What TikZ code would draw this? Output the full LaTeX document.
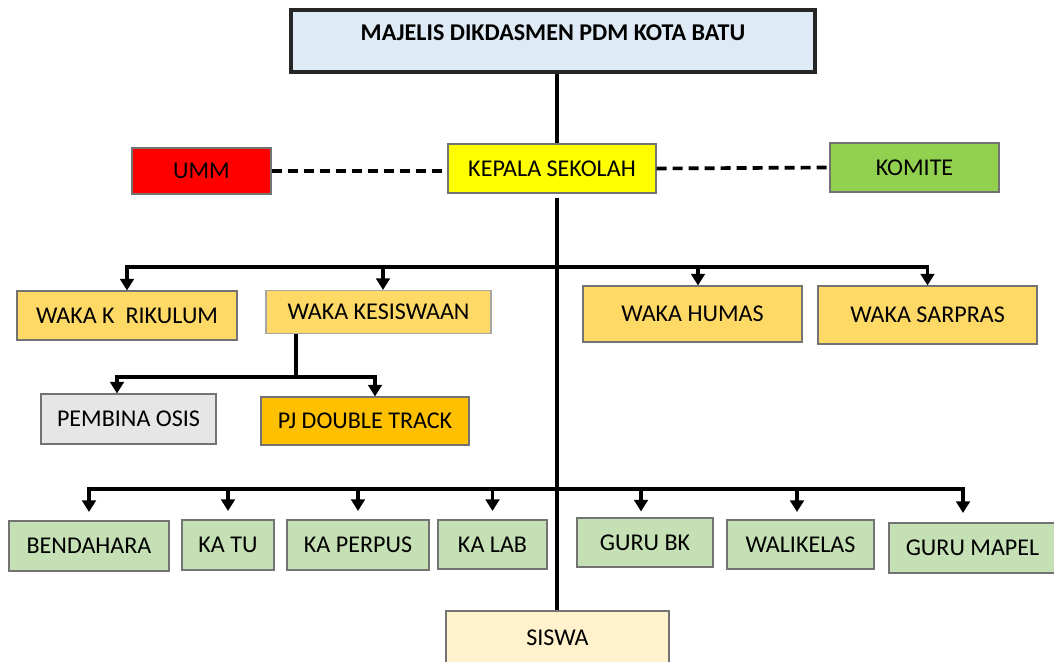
\documentclass[tikz,border=0pt]{standalone}
\usepackage{fontspec}
\setmainfont{Carlito}
\usetikzlibrary{arrows.meta}
\definecolor{majelisblue}{HTML}{DEEBF7}
\definecolor{ummred}{HTML}{FF0000}
\definecolor{kepalayellow}{HTML}{FFFF00}
\definecolor{komitegreen}{HTML}{92D050}
\definecolor{wakagold}{HTML}{FFD966}
\definecolor{osisgray}{HTML}{E7E6E6}
\definecolor{trackorange}{HTML}{FFC000}
\definecolor{stafgreen}{HTML}{C5E0B4}
\definecolor{siswacream}{HTML}{FFF2CC}

\begin{document}
\begin{tikzpicture}[>={Triangle[width=0.27cm,length=0.23cm]}, line width=2.1pt]
  \tikzstyle{box}=[rectangle, draw=black!55, line width=0.6pt, text=black,
font=\fontsize{13.7}{15}\selectfont, inner sep=0pt]
  \useasboundingbox (0,0) rectangle (21.08,13.22);

  \node[box, fill=majelisblue, draw=black!85, line width=2pt, font=\bfseries\fontsize{13.7}{15}\selectfont,
    minimum width=10.48cm, minimum height=1.24cm, text height=0.3cm, text depth=0.3cm] (K_majelis) at (11.06,12.40) {MAJELIS DIKDASMEN PDM KOTA BATU};
  \node[box, fill=ummred, minimum width=2.78cm, minimum height=0.92cm] (K_umm) at (4.03,9.80) {UMM};
  \node[box, fill=kepalayellow, minimum width=4.16cm, minimum height=0.98cm] (K_kepala) at (11.04,9.85) {KEPALA SEKOLAH};
  \node[box, fill=komitegreen, minimum width=3.38cm, minimum height=0.98cm] (K_komite) at (18.29,9.87) {KOMITE};

  \node[box, fill=wakagold, minimum width=4.40cm, minimum height=0.98cm] (W_kurikulum) at (2.54,6.91) {WAKA K\ \ RIKULUM};
  \node[box, fill=wakagold, draw=black!35, minimum width=4.50cm, minimum height=0.86cm] (W_kesiswaan) at (7.57,6.98) {WAKA KESISWAAN};
  \node[box, fill=wakagold, minimum width=4.38cm, minimum height=1.12cm] (W_humas) at (13.85,6.94) {WAKA HUMAS};
  \node[box, fill=wakagold, minimum width=4.38cm, minimum height=1.16cm] (W_sarpras) at (18.55,6.92) {WAKA SARPRAS};

  \node[box, fill=osisgray, minimum width=3.50cm, minimum height=1.00cm] (S_pembina) at (2.57,4.84) {PEMBINA OSIS};
  \node[box, fill=trackorange, minimum width=4.16cm, minimum height=0.96cm] (S_track) at (7.30,4.80) {PJ DOUBLE TRACK};

  \node[box, fill=stafgreen, minimum width=3.20cm, minimum height=1.00cm] (T_bendahara) at (1.78,2.30) {BENDAHARA};
  \node[box, fill=stafgreen, minimum width=1.84cm, minimum height=1.00cm] (T_katu) at (4.56,2.32) {KA TU};
  \node[box, fill=stafgreen, minimum width=2.84cm, minimum height=1.00cm] (T_perpus) at (7.16,2.32) {KA PERPUS};
  \node[box, fill=stafgreen, minimum width=2.18cm, minimum height=0.98cm] (T_lab) at (9.85,2.33) {KA LAB};
  \node[box, fill=stafgreen, minimum width=2.72cm, minimum height=0.98cm] (T_gurubk) at (12.90,2.37) {GURU BK};
  \node[box, fill=stafgreen, minimum width=2.94cm, minimum height=0.98cm] (T_walikelas) at (16.01,2.33) {WALIKELAS};
  \node[box, fill=stafgreen, minimum width=3.34cm, minimum height=1.00cm] (T_mapel) at (19.45,2.26) {GURU MAPEL};

  \node[box, fill=siswacream, minimum width=4.46cm, minimum height=1.06cm] (T_siswa) at (11.15,0.47) {SISWA};

  \coordinate (spine) at (11.14,0);
  \coordinate (bus_waka) at (11.14,7.88);
  \coordinate (bus_kes) at (5.92,5.68);
  \coordinate (bus_staf) at (11.14,3.44);

  \draw (K_majelis.south -| spine) -- (K_kepala.north -| spine);
  \draw ([yshift=-0.08cm]K_kepala.south -| spine) -- (T_siswa.north -| spine);
  \draw[dash pattern=on 0.2cm off 0.12cm] (K_umm.east) -- (K_umm.east -| K_kepala.west);
  \draw[dash pattern=on 0.2cm off 0.12cm] (K_kepala.east) -- (K_komite.west);

  \draw[->] (bus_waka) -| (W_kurikulum.north);
  \draw[->] (bus_waka) -| ([xshift=0.09cm]W_kesiswaan.north);
  \draw[->] (bus_waka) -| ([xshift=0.11cm]W_humas.north);
  \draw[->] (bus_waka) -| (W_sarpras.north);

  \draw (W_kesiswaan.south -| bus_kes) -- (bus_kes);
  \draw[->] (bus_kes) -| ([xshift=-0.23cm]S_pembina.north);
  \draw[->] (bus_kes) -| ([xshift=0.20cm]S_track.north);

  \draw[->, shorten >=0.17cm] (bus_staf) -| (T_bendahara.north);
  \draw[->, shorten >=0.17cm] (bus_staf) -| (T_katu.north);
  \draw[->, shorten >=0.17cm] (bus_staf) -| (T_perpus.north);
  \draw[->, shorten >=0.17cm] (bus_staf) -| (T_lab.north);
  \draw[->, shorten >=0.12cm] (bus_staf) -| ([xshift=-0.08cm]T_gurubk.north);
  \draw[->, shorten >=0.15cm] (bus_staf) -| ([xshift=-0.07cm]T_walikelas.north);
  \draw[->, shorten >=0.19cm] (bus_staf) -| ([xshift=-0.19cm]T_mapel.north);
\end{tikzpicture}
\end{document}
